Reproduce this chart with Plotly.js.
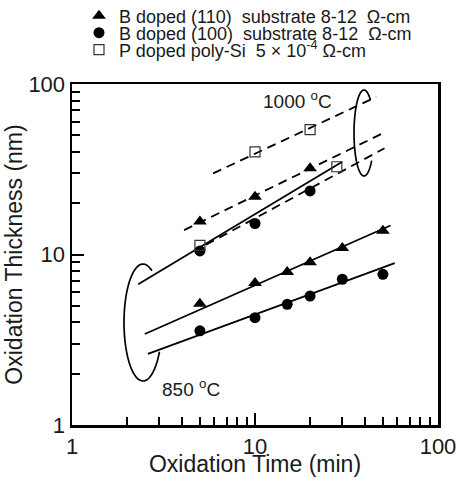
<!DOCTYPE html>
<html>
<head>
<meta charset="utf-8">
<script src="https://cdn.plot.ly/plotly-3.0.1.min.js"></script>
<style>html,body{margin:0;padding:0;background:#fff;}</style>
</head>
<body>
<div id="chart" style="width:458px;height:477px;"></div>
<script>
// ---- Data ----
// 1000 °C
var tri1000X = [5, 10, 20];
var tri1000Y = [15.6, 21.8, 32.0];
var cir1000X = [5, 10, 20];
var cir1000Y = [10.5, 15.2, 23.6];
var sq1000X = [10, 20];
var sq1000Y = [40, 54];
// 850 °C
var tri850X = [5, 10, 15, 20, 30, 50];
var tri850Y = [5.15, 6.8, 7.9, 9.0, 10.9, 13.8];
var cir850X = [5, 10, 15, 20, 30, 50];
var cir850Y = [3.57, 4.26, 5.1, 5.71, 7.16, 7.65];
var sq850X = [5, 28];
var sq850Y = [11.3, 32.7];
// fitted lines (end points)
var fitSq1000X = [5.9, 46];   var fitSq1000Y = [29.9, 84];
var fitTri1000X = [4.1, 51];  var fitTri1000Y = [13.9, 52];
var fitCir1000X = [5.4, 51];  var fitCir1000Y = [11.4, 42];
var fitSq850X = [2.3, 30];    var fitSq850Y = [6.7, 35];
var fitTri850X = [2.5, 55];   var fitTri850Y = [3.42, 14.8];
var fitCir850X = [2.6, 58];   var fitCir850Y = [2.61, 8.9];

var legendNames = [
  'B doped (110)\u00a0 substrate 8-12\u00a0 \u03a9-cm',
  'B doped (100)\u00a0 substrate 8-12\u00a0 \u03a9-cm',
  'P doped poly-Si\u00a0 5 \u00d7 10<sup>-4</sup> \u03a9-cm'
];
var tickVals = [1, 10, 100];
var tickText = ['1', '10', '100'];
var minorVals = [2,3,4,5,6,7,8,9,20,30,40,50,60,70,80,90];

// ---- Styles ----
var FONT = 'Liberation Sans, Arial, Helvetica, sans-serif';
var TXT = '#1a1a1a';
var triM = {symbol: 'triangle-up', size: 12, color: '#000'};
var cirM = {symbol: 'circle', size: 11, color: '#000'};
var sqM = {symbol: 'square-open', size: 10, color: '#333', line: {width: 1.2}};
var solid = {color: '#000', width: 1.8};
var dashed = {color: '#000', width: 1.8, dash: '9px,6px'};

function line(x, y, l) {
  return {x: x, y: y, mode: 'lines', line: l, showlegend: false, hoverinfo: 'skip'};
}
function pts(x, y, m, name, lg, show) {
  return {x: x, y: y, mode: 'markers', marker: m, name: name, legend: lg, showlegend: show};
}

var traces = [
  line(fitSq1000X, fitSq1000Y, dashed),
  line(fitTri1000X, fitTri1000Y, dashed),
  line(fitCir1000X, fitCir1000Y, dashed),
  line(fitSq850X, fitSq850Y, solid),
  line(fitTri850X, fitTri850Y, solid),
  line(fitCir850X, fitCir850Y, solid),
  pts(tri1000X, tri1000Y, triM, legendNames[0], 'legend', true),
  pts(tri850X, tri850Y, triM, legendNames[0], 'legend', false),
  pts(cir1000X, cir1000Y, cirM, legendNames[1], 'legend2', true),
  pts(cir850X, cir850Y, cirM, legendNames[1], 'legend2', false),
  pts(sq1000X, sq1000Y, sqM, legendNames[2], 'legend3', true),
  pts(sq850X, sq850Y, sqM, legendNames[2], 'legend3', false)
];

// ---- Ellipse outlines (decoration), pixel geometry -> paper ----
var L = 72, R = 438, T = 84, B = 425;
function ellipsePath(cx, cy, rx, ry, t0, t1) {
  var n = 60, s = '';
  for (var i = 0; i <= n; i++) {
    var t = (t0 + (t1 - t0) * i / n) * Math.PI / 180;
    var px = cx + rx * Math.cos(t), py = cy + ry * Math.sin(t);
    var xp = (px - L) / (R - L), yp = (B - py) / (B - T);
    s += (i === 0 ? 'M' : 'L') + xp.toFixed(4) + ',' + yp.toFixed(4);
  }
  return s;
}
var shapes = [
  {type: 'path', xref: 'paper', yref: 'paper', path: ellipsePath(143, 322.5, 19, 58.5, -62, -330), line: {color: '#000', width: 1.7}},
  {type: 'path', xref: 'paper', yref: 'paper', path: ellipsePath(364, 133, 10, 43, -50, -320), line: {color: '#000', width: 1.7}}
];

function legendAt(yc) {
  return {x: (79 - L) / (R - L), xref: 'paper', xanchor: 'left', y: 1 - yc / 477, yref: 'container', yanchor: 'middle',
          font: {family: FONT, size: 18, color: TXT}, bgcolor: 'rgba(0,0,0,0)', borderwidth: 0};
}

var axisCommon = {
  type: 'log', range: [0, 2], showline: true, mirror: true, linecolor: '#000', linewidth: 2.5,
  ticks: 'inside', ticklen: 12, tickwidth: 2, tickcolor: '#000',
  tickmode: 'array', tickvals: tickVals, ticktext: tickText,
  minor: {tickmode: 'array', tickvals: minorVals, ticks: 'inside', ticklen: 8, tickwidth: 2, tickcolor: '#000', showgrid: false},
  showgrid: false, zeroline: false,
  tickfont: {family: FONT, size: 22, color: TXT}
};

var layout = {
  width: 458, height: 477, autosize: false,
  margin: {l: 72, r: 20, t: 84, b: 52, pad: 0},
  paper_bgcolor: '#fff', plot_bgcolor: '#fff',
  font: {family: FONT, color: TXT},
  xaxis: Object.assign({}, axisCommon, {title: {text: 'Oxidation Time (min)', font: {family: FONT, size: 23, color: TXT}, standoff: 3}}),
  yaxis: Object.assign({}, axisCommon, {title: {text: 'Oxidation Thickness (nm)', font: {family: FONT, size: 23, color: TXT}, standoff: 0}}),
  showlegend: true,
  legend: legendAt(16),
  legend2: legendAt(33),
  legend3: legendAt(50),
  shapes: shapes,
  annotations: [
    {text: '1000 <sup>o</sup>C', xref: 'paper', yref: 'paper', x: (297 - L) / (R - L), y: (B - 100) / (B - T),
     xanchor: 'center', yanchor: 'middle', showarrow: false, font: {family: FONT, size: 19, color: TXT}},
    {text: '850 <sup>o</sup>C', xref: 'paper', yref: 'paper', x: (191 - L) / (R - L), y: (B - 388) / (B - T),
     xanchor: 'center', yanchor: 'middle', showarrow: false, font: {family: FONT, size: 19, color: TXT}}
  ]
};

Plotly.newPlot('chart', traces, layout, {displayModeBar: false, staticPlot: true});
</script>
</body>
</html>
